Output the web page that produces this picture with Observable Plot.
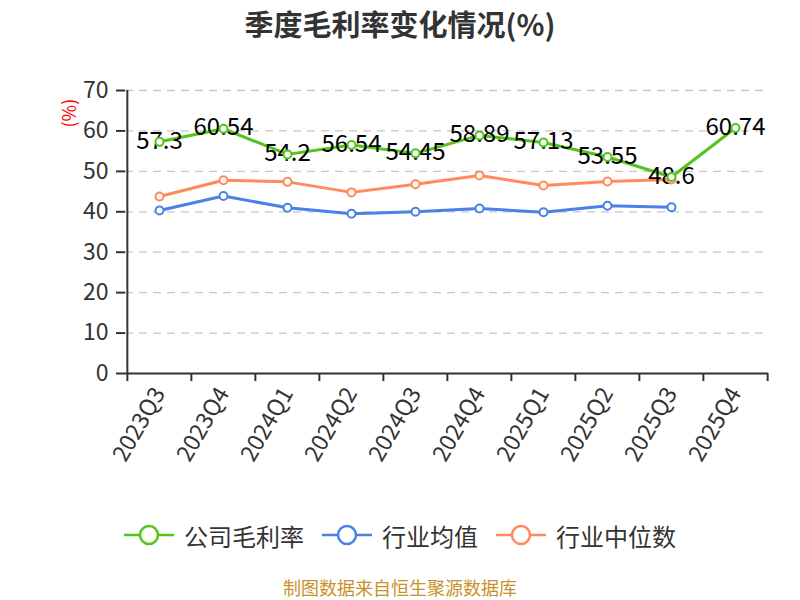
<!DOCTYPE html>
<html><head><meta charset="utf-8">
<script src="https://cdn.jsdelivr.net/npm/d3@7"></script>
<script src="https://cdn.jsdelivr.net/npm/@observablehq/plot@0.6"></script>
<style>
body{margin:0;background:#fff;font-family:"Noto Sans CJK SC","Noto Sans",sans-serif;}
#wrap{width:800px;height:600px;overflow:hidden;}
#title{height:46px;line-height:44px;padding-top:1px;box-sizing:border-box;text-align:center;font-size:29px;font-weight:bold;color:#333;}
#chart{height:455px;}
#legend{height:74px;display:flex;justify-content:center;align-items:center;box-sizing:border-box;padding-bottom:6px;color:#333;font-size:24px;}
.item{display:flex;align-items:center;margin:0 9px;}
.item svg{margin-right:10px;}
#caption{height:25px;line-height:25px;text-align:center;font-size:18px;color:#c8922a;}
</style></head><body>
<div id="wrap">
<div id="title">季度毛利率变化情况(%)</div>
<div id="chart"></div>
<div id="legend"></div>
<div id="caption">制图数据来自恒生聚源数据库</div>
</div>
<script>
const quarters = ["2023Q3","2023Q4","2024Q1","2024Q2","2024Q3","2024Q4","2025Q1","2025Q2","2025Q3","2025Q4"];
const companyMargin = [57.3,60.54,54.2,56.54,54.45,58.89,57.13,53.55,48.6,60.74];
const industryAvg = [40.3,43.9,41.0,39.5,40.0,40.8,39.9,41.5,41.1];
const industryMedian = [43.8,47.8,47.4,44.8,46.8,49.0,46.5,47.5,48.0];
const yTicks = [0,10,20,30,40,50,60,70];
const seriesNames = ["公司毛利率","行业均值","行业中位数"];
const colors = ["#52c41a","#4a80e8","#ff8a5b"];

const rows = (vals) => vals.map((v,i)=>({q: quarters[i], v}));
const companyRows = rows(companyMargin);
const avgRows = rows(industryAvg);
const medRows = rows(industryMedian);

const W = 800, H = 455, mL = 125, mR = 32, mT = 44, mB = 128;
const bw = (W - mL - mR) / quarters.length;

const plot = Plot.plot({
  width: W, height: H,
  marginLeft: mL, marginRight: mR, marginTop: mT, marginBottom: mB,
  style: {fontFamily: '"Noto Sans CJK SC","Noto Sans",sans-serif', color: "#333", background: "#fff"},
  x: {type: "band", domain: quarters, padding: 0},
  y: {domain: [0, 70]},
  marks: [
    Plot.gridY(yTicks.filter(d => d > 0), {stroke: "#c8c8c8", strokeOpacity: 1, strokeDasharray: "8,6", strokeWidth: 1.3}),
    Plot.axisY({ticks: yTicks, tickSize: 9, tickPadding: 8, fontSize: 23, label: null, stroke: "#333", strokeWidth: 2}),
    Plot.axisX({tickSize: 0, tickPadding: 16, tickRotate: -60, fontSize: 23, label: null}),
    Plot.ruleX([quarters[0]], {dx: -bw/2, stroke: "#333", strokeWidth: 2}),
    Plot.ruleX(quarters, {x: d => d, y1: 0, y2: -2, dx: -bw/2, stroke: "#333", strokeWidth: 2}),
    Plot.ruleX([quarters[quarters.length-1]], {y1: 0, y2: -2, dx: bw/2, stroke: "#333", strokeWidth: 2}),
    Plot.ruleY([0], {stroke: "#333", strokeWidth: 2}),
    Plot.text(["(%)"], {frameAnchor: "top-left", dx: -62, dy: 37, rotate: -90, fill: "red", fontSize: 18}),
    Plot.lineY(medRows, {x: "q", y: "v", stroke: colors[2], strokeWidth: 3}),
    Plot.lineY(avgRows, {x: "q", y: "v", stroke: colors[1], strokeWidth: 3}),
    Plot.lineY(companyRows, {x: "q", y: "v", stroke: colors[0], strokeWidth: 3}),
    Plot.text(companyRows, {x: "q", y: "v", text: d => String(d.v), fontSize: 24, fill: "#000", lineAnchor: "middle", dy: -1}),
    Plot.dot(medRows, {x: "q", y: "v", r: 4, fill: "white", stroke: colors[2], strokeWidth: 2}),
    Plot.dot(avgRows, {x: "q", y: "v", r: 4, fill: "white", stroke: colors[1], strokeWidth: 2}),
    Plot.dot(companyRows, {x: "q", y: "v", r: 4, fill: "white", stroke: colors[0], strokeWidth: 2})
  ]
});
document.getElementById("chart").appendChild(plot);

const legend = document.getElementById("legend");
seriesNames.forEach((name, i) => {
  const item = document.createElement("div");
  item.className = "item";
  item.innerHTML = `<svg width="50" height="22" viewBox="0 0 50 22"><line x1="0" y1="11" x2="50" y2="11" stroke="${colors[i]}" stroke-width="2.5"/><circle cx="25" cy="11" r="9" fill="white" stroke="${colors[i]}" stroke-width="2.5"/></svg><span>${name}</span>`;
  legend.appendChild(item);
});
</script>
</body></html>
